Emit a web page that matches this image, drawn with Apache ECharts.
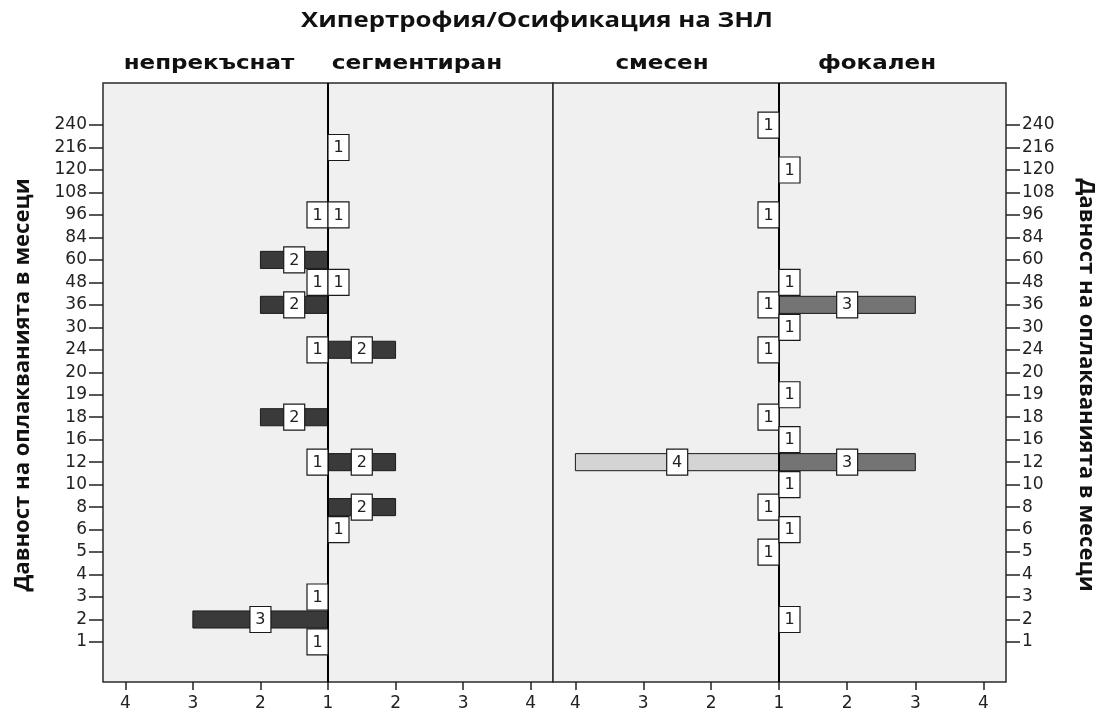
<!DOCTYPE html>
<html>
<head>
<meta charset="utf-8">
<script src="https://cdn.jsdelivr.net/npm/echarts@6/dist/echarts.min.js"></script>
<style>
  html, body { margin: 0; padding: 0; background: #ffffff; }
  #chart { width: 1106px; height: 713px; }
</style>
</head>
<body>
<div id="chart"></div>
<script>
// Complaint duration (months), bottom to top
const months = ['1', '2', '3', '4', '5', '6', '8', '10', '12', '16', '18', '19', '20',
                '24', '30', '36', '48', '60', '84', '96', '108', '120', '216', '240'];

// Counts per duration for each ossification type (null = no cases)
const continuousCounts = [1, 3, 1, null, null, null, null, null, 1, null, 2, null, null,
                          1, null, 2, 1, 2, null, 1, null, null, null, null];
const segmentedCounts  = [null, null, null, null, null, 1, 2, null, 2, null, null, null, null,
                          2, null, null, 1, null, null, 1, null, null, 1, null];
const mixedCounts      = [null, null, null, null, 1, null, 1, null, 4, null, 1, null, null,
                          1, null, 1, null, null, null, 1, null, null, null, 1];
const focalCounts      = [null, 1, null, null, null, 1, null, 1, 3, 1, null, 1, null,
                          null, 1, 3, 1, null, null, null, null, 1, null, null];

const countTicks = [1, 2, 3, 4];
const outerTicks = [2, 3, 4];

const titleText = 'Хипертрофия/Осификация на ЗНЛ';
const panelNames = ['непрекъснат', 'сегментиран', 'смесен', 'фокален'];
const axisTitle = 'Давност на оплакванията в месеци';

const chart = echarts.init(document.getElementById('chart'), null, { renderer: 'canvas' });

// Frame geometry
const frameTop = 83, frameBottom = 682;
const frameLeft = 103, frameMid = 553, frameRight = 1006;
const centerA = 328, centerB = 779;
const dataTop = 113.8, dataBottom = 653.2;

const numFont = '16px "DejaVu Sans"';

function toPairs(arr) {
  const out = [];
  arr.forEach(function (v, i) { if (v != null) out.push([v, i]); });
  return out;
}

function makeGrid(left, right) {
  return { left: left, width: right - left, top: dataTop, height: dataBottom - dataTop, show: false };
}

function makeXAxis(gridIndex, inverse, tickValues) {
  return {
    type: 'value', gridIndex: gridIndex, min: 1, max: 4.33, inverse: inverse,
    position: 'bottom', offset: frameBottom - dataBottom,
    splitLine: { show: false },
    axisLine: { show: false },
    axisTick: { show: true, length: 8, customValues: tickValues, lineStyle: { color: '#222', width: 1.5 } },
    axisLabel: { customValues: tickValues, margin: 13, color: '#222', fontFamily: 'DejaVu Sans', fontSize: 17 }
  };
}

function makeYAxis(gridIndex, position, visible) {
  return {
    type: 'category', gridIndex: gridIndex, data: months, position: position,
    show: visible,
    axisLine: { show: false },
    axisTick: { show: true, alignWithLabel: true, length: 14, lineStyle: { color: '#222', width: 1.5 } },
    axisLabel: { margin: 16, color: '#222', fontFamily: 'DejaVu Sans', fontSize: 17, interval: 0 }
  };
}

function barSeries(idx, counts, fill) {
  return {
    type: 'custom', xAxisIndex: idx, yAxisIndex: idx, z: 2,
    data: toPairs(counts),
    encode: { x: 0, y: 1 },
    renderItem: function (params, api) {
      const v = api.value(0), c = api.value(1);
      const base = api.coord([1, c]);
      const end = api.coord([v, c]);
      const h = api.size([0, 1])[1] * 0.76;
      const x0 = Math.min(base[0], end[0]);
      const w = Math.abs(end[0] - base[0]);
      if (w < 0.5) return null;
      return {
        type: 'rect',
        shape: { x: x0, y: base[1] - h / 2, width: w, height: h },
        style: { fill: fill, stroke: '#1a1a1a', lineWidth: 1 }
      };
    }
  };
}

function labelSeries(idx, counts, dir) {
  return {
    type: 'custom', xAxisIndex: idx, yAxisIndex: idx, z: 6,
    data: toPairs(counts),
    encode: { x: 0, y: 1 },
    renderItem: function (params, api) {
      const v = api.value(0), c = api.value(1);
      const base = api.coord([1, c]);
      const end = api.coord([v, c]);
      const bw = 21, bh = 26;
      const mid = (base[0] + end[0]) / 2;
      const cx = dir > 0 ? Math.max(mid, base[0] + bw / 2) : Math.min(mid, base[0] - bw / 2);
      const cy = base[1];
      return {
        type: 'group',
        children: [
          { type: 'rect', shape: { x: cx - bw / 2, y: cy - bh / 2, width: bw, height: bh },
            style: { fill: '#ffffff', stroke: '#1a1a1a', lineWidth: 1.2 } },
          { type: 'text', x: cx, y: cy + 0.5,
            style: { text: String(v), font: numFont, fill: '#222', align: 'center', verticalAlign: 'middle' } }
        ]
      };
    }
  };
}

function heading(text, x, y, font, sx, rotation) {
  return {
    type: 'text', z: 10, x: x, y: y, scaleX: sx, rotation: rotation || 0,
    style: { text: text, font: font, fill: '#111', align: 'center', verticalAlign: 'middle' }
  };
}

const darkFill = '#3a3a3a';
const midFill = '#747474';
const lightFill = '#d4d4d4';

const option = {
  backgroundColor: '#ffffff',
  animation: false,
  grid: [
    makeGrid(frameLeft, centerA),
    makeGrid(centerA, frameMid),
    makeGrid(frameMid, centerB),
    makeGrid(centerB, frameRight)
  ],
  xAxis: [
    makeXAxis(0, true, countTicks),
    makeXAxis(1, false, outerTicks),
    makeXAxis(2, true, countTicks),
    makeXAxis(3, false, outerTicks)
  ],
  yAxis: [
    makeYAxis(0, 'left', true),
    makeYAxis(1, 'left', false),
    makeYAxis(2, 'left', false),
    makeYAxis(3, 'right', true)
  ],
  graphic: [
    // panel backgrounds and frames
    { type: 'rect', z: 0, shape: { x: frameLeft, y: frameTop, width: frameMid - frameLeft, height: frameBottom - frameTop },
      style: { fill: '#f0f0f0', stroke: '#2a2a2a', lineWidth: 1.5 } },
    { type: 'rect', z: 0, shape: { x: frameMid, y: frameTop, width: frameRight - frameMid, height: frameBottom - frameTop },
      style: { fill: '#f0f0f0', stroke: '#2a2a2a', lineWidth: 1.5 } },
    // zero lines between the halves of each panel
    { type: 'line', z: 5, shape: { x1: centerA, y1: frameTop, x2: centerA, y2: frameBottom },
      style: { stroke: '#000', lineWidth: 2 } },
    { type: 'line', z: 5, shape: { x1: centerB, y1: frameTop, x2: centerB, y2: frameBottom },
      style: { stroke: '#000', lineWidth: 2 } },
    // titles
    heading(titleText, 537, 21, 'bold 22px "Open Sans"', 1.17),
    heading(panelNames[0], 209, 64, 'bold 20px "DejaVu Sans"', 1.15),
    heading(panelNames[1], 417, 64, 'bold 20px "DejaVu Sans"', 1.16),
    heading(panelNames[2], 662, 64, 'bold 20px "DejaVu Sans"', 1.15),
    heading(panelNames[3], 877, 64, 'bold 20px "DejaVu Sans"', 1.15),
    heading(axisTitle, 23, 385, 'bold 21px "Open Sans"', 1.05, Math.PI / 2),
    heading(axisTitle, 1086, 385, 'bold 21px "Open Sans"', 1.05, -Math.PI / 2)
  ],
  series: [
    barSeries(0, continuousCounts, darkFill),
    barSeries(1, segmentedCounts, darkFill),
    barSeries(2, mixedCounts, lightFill),
    barSeries(3, focalCounts, midFill),
    labelSeries(0, continuousCounts, -1),
    labelSeries(1, segmentedCounts, 1),
    labelSeries(2, mixedCounts, -1),
    labelSeries(3, focalCounts, 1)
  ]
};

chart.setOption(option);
</script>
</body>
</html>
